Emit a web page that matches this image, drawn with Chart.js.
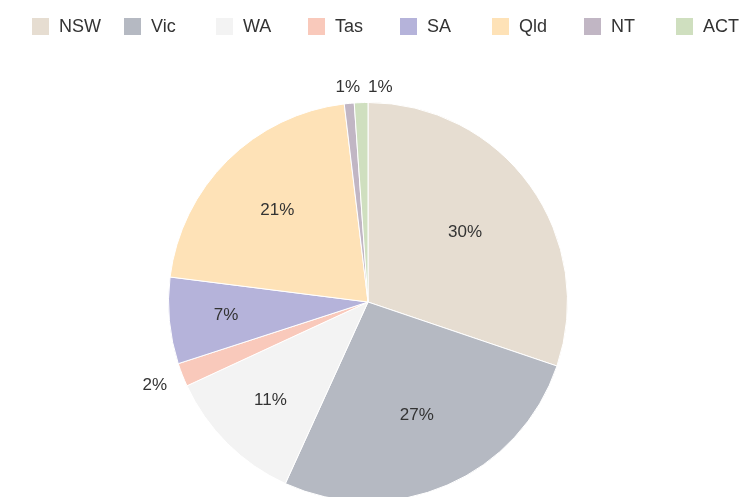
<!DOCTYPE html>
<html><head><meta charset="utf-8">
<script src="https://cdn.jsdelivr.net/npm/chart.js@4"></script>
<style>
html,body{margin:0;padding:0;background:#fff;overflow:hidden;width:747px;height:497px;}
#wrap{position:absolute;left:0;top:0;width:747px;height:512px;}
#legend{position:absolute;left:0;top:0;width:747px;height:60px;font-family:"Liberation Sans",Arial,sans-serif;font-size:18px;color:#333;}
.item{position:absolute;top:18px;height:17px;display:flex;align-items:center;white-space:nowrap;}
.box{width:17px;height:17px;margin-right:10px;flex:none;}
</style></head><body>
<div id="wrap"><canvas id="c"></canvas></div>
<div id="legend"></div>
<script>
const categories = ['NSW','Vic','WA','Tas','SA','Qld','NT','ACT'];
const shares = [30.2, 26.6, 11.3, 1.9, 7.0, 21.1, 0.8, 1.1];
const colors = ['#e6ddd1','#b5b9c2','#f3f3f3','#f9c9bb','#b5b3da','#fee2b7','#c1b6c4','#cfdfbf'];

const pctLabels = {
  id:'pctLabels',
  afterDatasetsDraw(chart){
    const ctx = chart.ctx;
    const meta = chart.getDatasetMeta(0);
    const data = chart.data.datasets[0].data;
    const total = data.reduce((a,b)=>a+b,0);
    ctx.save();
    ctx.font = '17px "Liberation Sans", Arial, sans-serif';
    ctx.fillStyle = '#333';
    ctx.textAlign = 'center';
    ctx.textBaseline = 'middle';
    const outside = [];
    meta.data.forEach((arc,i)=>{
      const p = arc.getProps(['x','y','startAngle','endAngle','outerRadius'], true);
      const pct = data[i]/total*100;
      const txt = Math.round(pct)+'%';
      const mid = (p.startAngle+p.endAngle)/2;
      const c = Math.cos(mid), s = Math.sin(mid);
      if (pct >= 5) {
        const k = 0.75 - 0.005*pct;
        ctx.fillText(txt, p.x + c*p.outerRadius*k, p.y + s*p.outerRadius*k);
      } else {
        const w = ctx.measureText(txt).width;
        const hw = w/2, hh = 8;
        const d = Math.min(Math.abs(c)>1e-6 ? hw/Math.abs(c) : Infinity, Math.abs(s)>1e-6 ? hh/Math.abs(s) : Infinity);
        const dist = p.outerRadius + 7 + 10*Math.abs(c) + d;
        outside.push({txt, x:p.x + c*dist, y:p.y + s*dist, w});
      }
    });
    outside.sort((a,b)=>a.x-b.x);
    for (let i=1;i<outside.length;i++){
      const a = outside[i-1], b = outside[i];
      if (Math.abs(a.y-b.y) < 18) {
        const need = (a.w+b.w)/2 + 8;
        if (b.x - a.x < need) b.x = a.x + need;
      }
    }
    outside.forEach(o=>ctx.fillText(o.txt, o.x, o.y));
    ctx.restore();
  }
};

const chart = new Chart(document.getElementById('c'), {
  type:'pie',
  data:{
    labels: categories,
    datasets:[{
      data: shares,
      backgroundColor: colors,
      borderColor:'#ffffff',
      borderWidth:1,
      hoverOffset:0,
      offset:0
    }]
  },
  options:{
    responsive:true,
    maintainAspectRatio:false,
    animation:false,
    layout:{padding:{top:102,bottom:10,left:0,right:11}},
    plugins:{legend:{display:false},tooltip:{enabled:false}}
  },
  plugins:[pctLabels]
});

const legend = document.getElementById('legend');
categories.forEach((name,i)=>{
  const item = document.createElement('div');
  item.className='item';
  item.style.left = (32 + 92*i) + 'px';
  const box = document.createElement('span');
  box.className='box';
  box.style.background = colors[i];
  const t = document.createElement('span');
  t.textContent = name;
  item.appendChild(box); item.appendChild(t);
  legend.appendChild(item);
});
</script>
</body></html>
